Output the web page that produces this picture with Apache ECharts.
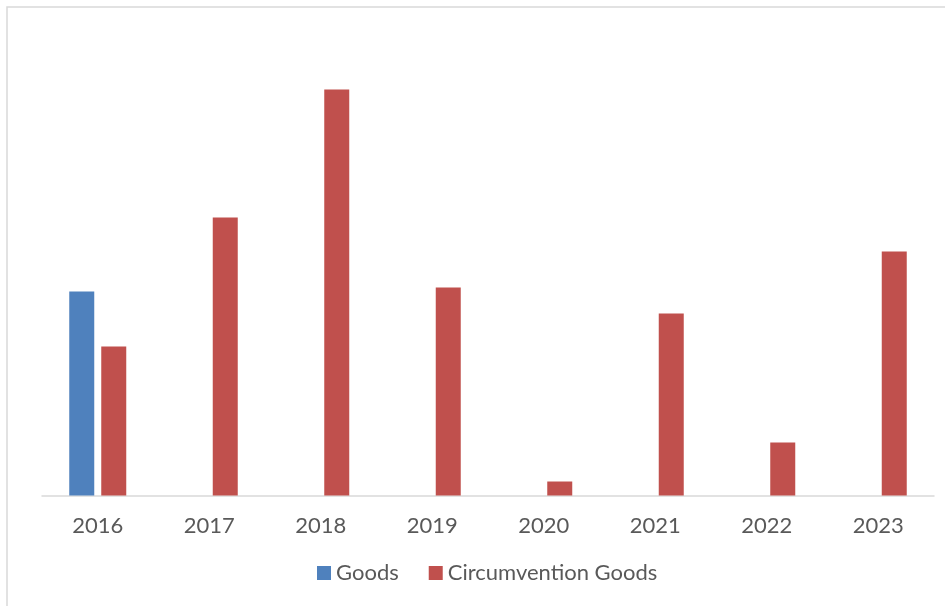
<!DOCTYPE html>
<html>
<head>
<meta charset="utf-8">
<script src="https://cdn.jsdelivr.net/npm/echarts@6/dist/echarts.min.js"></script>
<style>html,body{margin:0;padding:0;background:#fff;}#c{width:945px;height:606px;}</style>
</head>
<body>
<div id="c"></div>
<script>
const categories = ['2016','2017','2018','2019','2020','2021','2022','2023'];
const goods = [204, null, null, null, null, null, null, null];
const circumventionGoods = [149, 278, 406, 208, 14, 182, 53, 244];
const seriesNames = ['Goods', 'Circumvention Goods'];

const chart = echarts.init(document.getElementById('c'));
const font = 'Lato';
chart.setOption({
  animation: false,
  backgroundColor: '#fff',
  graphic: [{
    type: 'rect', silent: true,
    shape: {x: 7, y: 7, width: 945, height: 606},
    style: {fill: 'none', stroke: '#d9d9d9', lineWidth: 1.5}
  }],
  grid: {left: 42, right: 11, top: 45.5, bottom: 110.5, containLabel: false},
  legend: {
    data: seriesNames,
    left: 317, top: 562, padding: 0,
    itemWidth: 14, itemHeight: 14, itemGap: 30,
    icon: 'rect',
    textStyle: {fontFamily: font, fontSize: 22, color: '#595959', padding: [0,0,0,0]}
  },
  xAxis: {
    type: 'category', data: categories,
    axisLine: {lineStyle: {color: '#d9d9d9', width: 1.5}},
    axisTick: {show: false},
    axisLabel: {fontFamily: font, fontSize: 22, color: '#595959', margin: 19}
  },
  yAxis: {
    type: 'value', min: 0, max: 450, show: false,
    splitLine: {show: false}
  },
  series: [
    {name: seriesNames[0], type: 'bar', data: goods, barWidth: 25, barGap: '28%',
     itemStyle: {color: '#4f81bd'}},
    {name: seriesNames[1], type: 'bar', data: circumventionGoods, barWidth: 25, barGap: '28%',
     itemStyle: {color: '#c0504d'}}
  ]
});
</script>
</body>
</html>
